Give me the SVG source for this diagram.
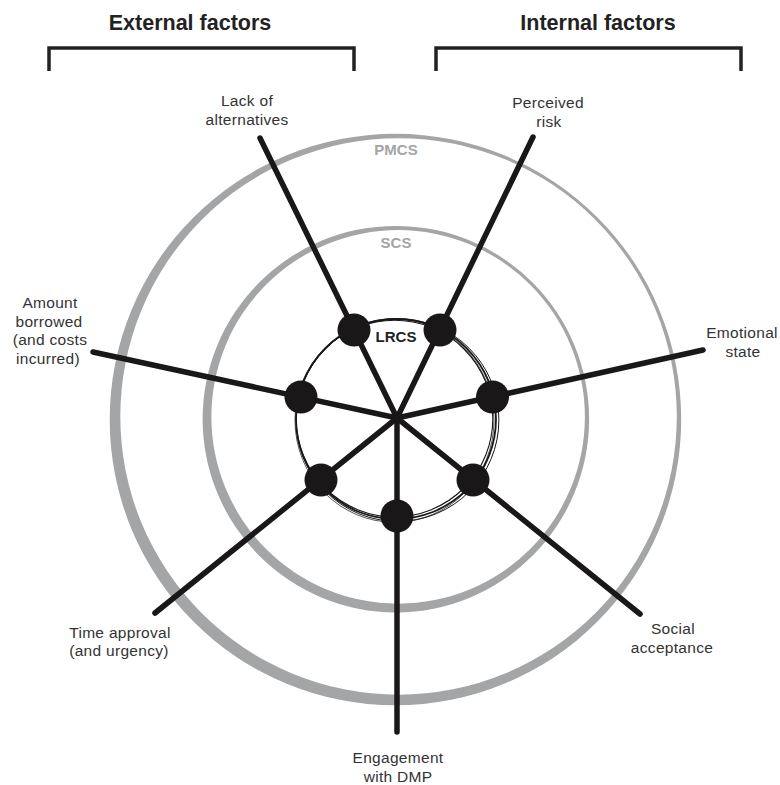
<svg xmlns="http://www.w3.org/2000/svg" width="780" height="785" viewBox="0 0 780 785">
  <style>
    .title { font-family: "Liberation Sans", Arial, sans-serif; font-size: 21.5px; font-weight: bold; fill: #222; text-anchor: middle; }
    .lbl { font-family: "Liberation Sans", Arial, sans-serif; font-size: 15.5px; fill: #333; text-anchor: middle; letter-spacing: 0.3px; }
    .ring-lbl { font-family: "Liberation Sans", Arial, sans-serif; font-size: 15px; font-weight: bold; fill: #a3a5a6; text-anchor: middle; }
    .core-lbl { font-family: "Liberation Sans", Arial, sans-serif; font-size: 15px; font-weight: bold; fill: #222; text-anchor: middle; }
    .bracket { fill: none; stroke: #222; stroke-width: 3.5; }
    .ring { fill: #a3a5a6; fill-rule: evenodd; stroke: none; }
    .spoke { stroke: #1a1718; stroke-width: 5.5; stroke-linecap: round; fill: none; }
    .dot { fill: #1a1718; }
    .sketch { fill: none; stroke: #1a1718; }
  </style>

  <!-- Headers -->
  <g id="external-factors">
    <text class="title" x="190" y="30">External factors</text>
    <path class="bracket" d="M49,71 V48 H354 V71"/>
  </g>
  <g id="internal-factors">
    <text class="title" x="598" y="30">Internal factors</text>
    <path class="bracket" d="M436,71 V48 H741 V71"/>
  </g>

  <!-- Rings -->
  <g id="PMCS">
    <path class="ring" d="M109.69,419.56 a285.75,285.75 0 1,0 571.5,0 a285.75,285.75 0 1,0 -571.5,0 Z M120.31,416.44 a278.25,278.25 0 1,0 556.5,0 a278.25,278.25 0 1,0 -556.5,0 Z"/>
    <text class="ring-lbl" x="396" y="155">PMCS</text>
  </g>
  <g id="SCS">
    <path class="ring" d="M202.62,419.13 a193.25,193.25 0 1,0 386.5,0 a193.25,193.25 0 1,0 -386.5,0 Z M211.38,416.87 a186.75,186.75 0 1,0 373.5,0 a186.75,186.75 0 1,0 -373.5,0 Z"/>
    <text class="ring-lbl" x="396" y="248">SCS</text>
  </g>
  <g id="LRCS">
    <circle class="sketch" cx="396" cy="419" r="100" stroke-width="1.8"/>
    <circle class="sketch" cx="394.5" cy="418.5" r="98.3" stroke-width="1.1"/>
    <circle class="sketch" cx="397.5" cy="420" r="101.4" stroke-width="1"/>
    <ellipse class="sketch" cx="394.5" cy="420.5" rx="99.5" ry="101.8" stroke-width="0.9" stroke-opacity="0.8"/>
    <text class="core-lbl" x="396" y="342">LRCS</text>
  </g>

  <!-- Connectors -->
  <g id="connectors">
    <line class="spoke" x1="397" y1="418" x2="260" y2="138"/>
    <line class="spoke" x1="397" y1="418" x2="533" y2="137"/>
    <line class="spoke" x1="397" y1="418" x2="93" y2="352"/>
    <line class="spoke" x1="397" y1="418" x2="703" y2="350"/>
    <line class="spoke" x1="397" y1="418" x2="155" y2="613"/>
    <line class="spoke" x1="397" y1="418" x2="640" y2="614"/>
    <line class="spoke" x1="397" y1="418" x2="397" y2="732"/>
  </g>

  <!-- Nodes -->
  <g id="lack-of-alternatives">
    <circle class="dot" cx="354" cy="330" r="16.5"/>
    <text class="lbl" x="247" y="106">Lack of</text>
    <text class="lbl" x="247" y="125">alternatives</text>
  </g>
  <g id="perceived-risk">
    <circle class="dot" cx="440" cy="330" r="16.5"/>
    <text class="lbl" x="548" y="108">Perceived</text>
    <text class="lbl" x="549" y="127">risk</text>
  </g>
  <g id="amount-borrowed">
    <circle class="dot" cx="301" cy="397" r="16.5"/>
    <text class="lbl" x="50" y="308">Amount</text>
    <text class="lbl" x="49" y="327">borrowed</text>
    <text class="lbl" x="50" y="345">(and costs</text>
    <text class="lbl" x="48" y="364">incurred)</text>
  </g>
  <g id="emotional-state">
    <circle class="dot" cx="492.5" cy="397" r="16.5"/>
    <text class="lbl" x="742" y="338">Emotional</text>
    <text class="lbl" x="743" y="357">state</text>
  </g>
  <g id="time-approval">
    <circle class="dot" cx="321" cy="480" r="16.5"/>
    <text class="lbl" x="120" y="638">Time approval</text>
    <text class="lbl" x="119" y="656">(and urgency)</text>
  </g>
  <g id="social-acceptance">
    <circle class="dot" cx="473" cy="480" r="16.5"/>
    <text class="lbl" x="673" y="634">Social</text>
    <text class="lbl" x="672" y="653">acceptance</text>
  </g>
  <g id="engagement-with-dmp">
    <circle class="dot" cx="397" cy="516" r="16.5"/>
    <text class="lbl" x="398" y="763">Engagement</text>
    <text class="lbl" x="398" y="782">with DMP</text>
  </g>
</svg>
